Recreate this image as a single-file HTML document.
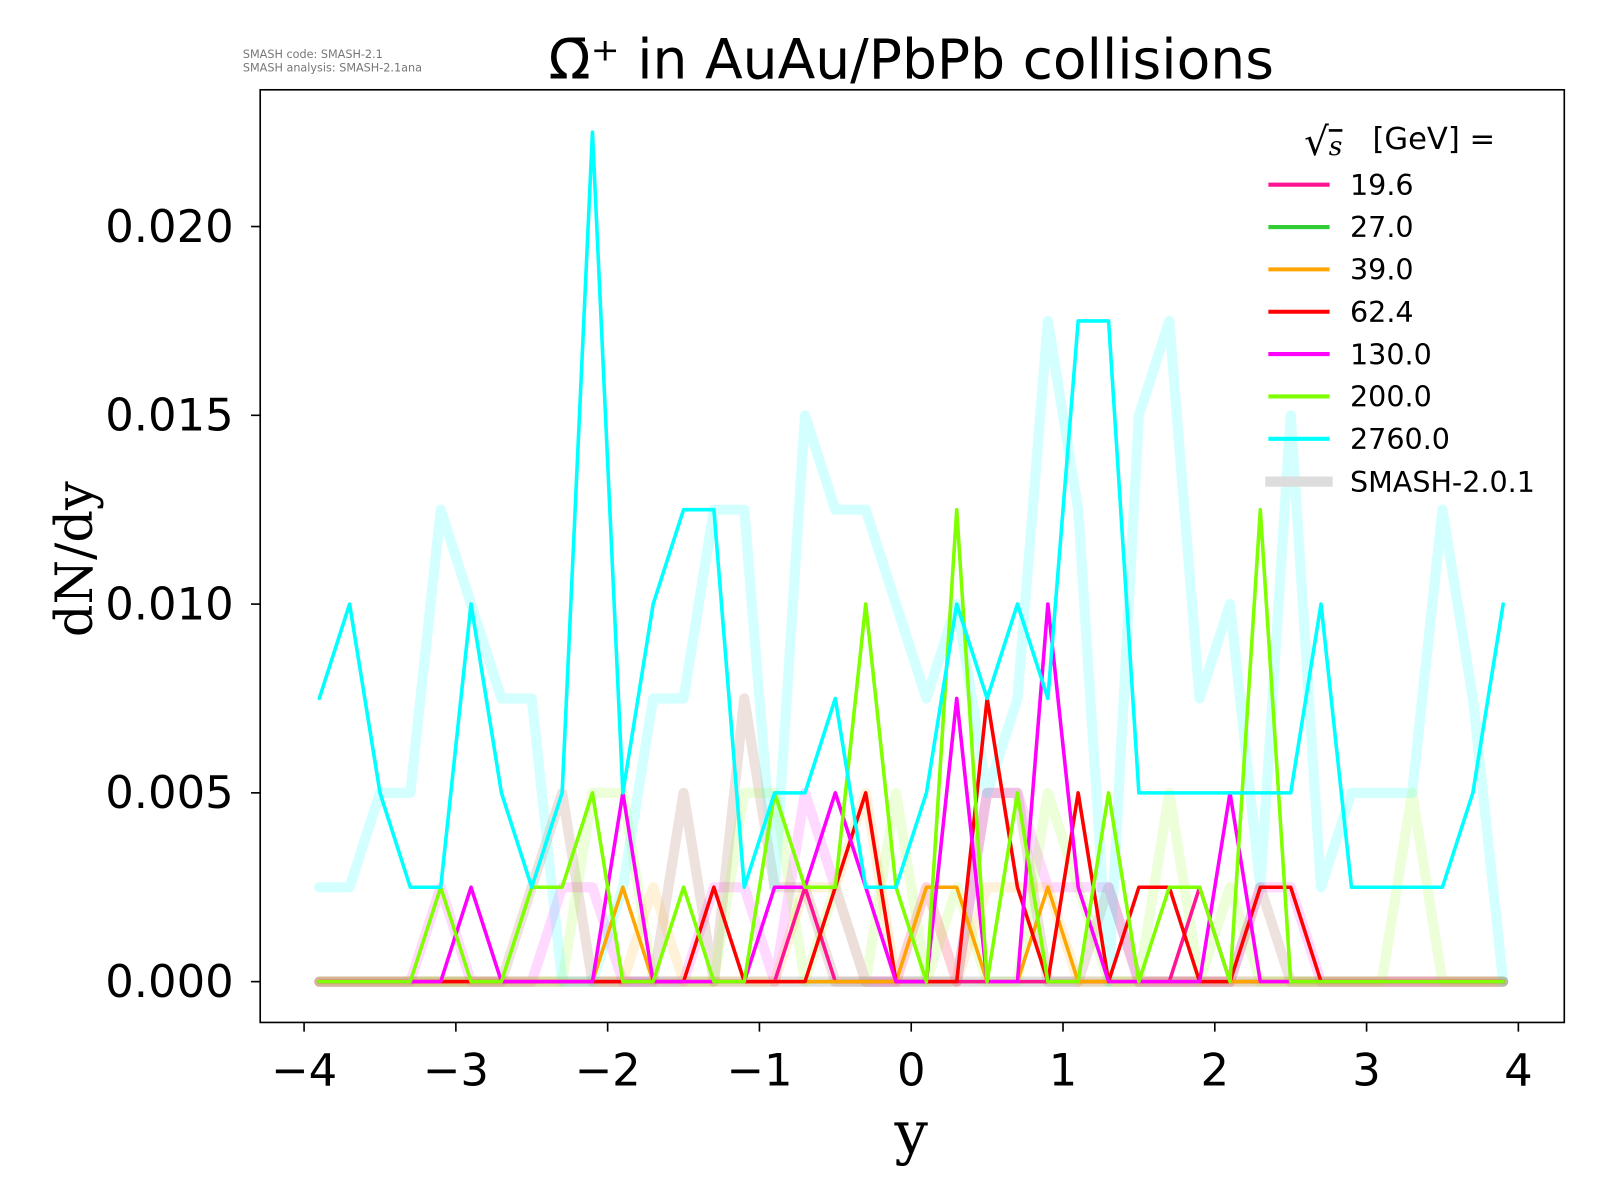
<!DOCTYPE html>
<html><head><meta charset="utf-8"><style>
html,body{margin:0;padding:0;background:#fff;overflow:hidden;width:1600px;height:1200px}
svg{display:block}
text{font-family:"DejaVu Sans","Liberation Sans",sans-serif}
</style></head><body>
<svg id="s" width="1600" height="1200" viewBox="0 0 1568 1176" preserveAspectRatio="none" xmlns="http://www.w3.org/2000/svg">
<rect width="1568" height="1176" fill="#fff"/>
<g id="faded"></g>
<g id="bright"></g>
<rect x="255" y="88" width="1278" height="914" fill="none" stroke="#000" stroke-width="1.6"/>
<g stroke="#000" stroke-width="1.6">
<line x1="298" y1="1002" x2="298" y2="1011"/><line x1="446.75" y1="1002" x2="446.75" y2="1011"/>
<line x1="595.5" y1="1002" x2="595.5" y2="1011"/><line x1="744.25" y1="1002" x2="744.25" y2="1011"/>
<line x1="893" y1="1002" x2="893" y2="1011"/><line x1="1041.75" y1="1002" x2="1041.75" y2="1011"/>
<line x1="1190.5" y1="1002" x2="1190.5" y2="1011"/><line x1="1339.25" y1="1002" x2="1339.25" y2="1011"/>
<line x1="1488" y1="1002" x2="1488" y2="1011"/>
<line x1="246" y1="962" x2="255" y2="962"/><line x1="246" y1="777" x2="255" y2="777"/>
<line x1="246" y1="592" x2="255" y2="592"/><line x1="246" y1="407" x2="255" y2="407"/>
<line x1="246" y1="222" x2="255" y2="222"/>
</g>
<g font-size="44" text-anchor="middle" fill="#000">
<text x="298" y="1064">−4</text><text x="446.75" y="1064">−3</text><text x="595.5" y="1064">−2</text>
<text x="744.25" y="1064">−1</text><text x="893" y="1064">0</text><text x="1041.75" y="1064">1</text>
<text x="1190.5" y="1064">2</text><text x="1339.25" y="1064">3</text><text x="1488" y="1064">4</text>
</g>
<g font-size="44" text-anchor="end" fill="#000">
<text x="229" y="977">0.000</text><text x="229" y="792">0.005</text><text x="229" y="607">0.010</text>
<text x="229" y="422">0.015</text><text x="229" y="237">0.020</text>
</g>
<text x="893" y="1130" font-size="58" text-anchor="middle" style="font-family:'DejaVu Serif','Liberation Serif',serif">y</text>
<text transform="translate(90,548) rotate(-90)" font-size="50" text-anchor="middle" style="font-family:'DejaVu Serif','Liberation Serif',serif">dN/dy</text>
<text x="893" y="77" font-size="54" text-anchor="middle">Ω̄⁺ in AuAu/PbPb collisions</text>
<text x="238" y="57" font-size="11" fill="#777">SMASH code:      SMASH-2.1</text>
<text x="238" y="70" font-size="11" fill="#777">SMASH analysis: SMASH-2.1ana</text>
<g id="legend">
<text x="1278" y="152" font-size="38" style="font-family:'DejaVu Serif',serif">√<tspan text-decoration="overline" font-size="26" font-style="italic">s</tspan></text>
<text x="1345" y="146" font-size="30">[GeV] =</text>
</g>
</svg>
<script>
var X=function(y){return 298+(y+4)*148.75};
var Y=function(k){return 962-k*92.5};
function pl(g,arr,col,w,op){
 var pts=arr.map(function(k,i){return X(-3.9+0.2*i).toFixed(1)+","+Y(k).toFixed(1)}).join(" ");
 var e=document.createElementNS("http://www.w3.org/2000/svg","polyline");
 e.setAttribute("points",pts);e.setAttribute("fill","none");e.setAttribute("stroke",col);
 e.setAttribute("stroke-width",w);e.setAttribute("stroke-linejoin","round");e.setAttribute("stroke-linecap","round");
 if(op)e.setAttribute("stroke-opacity",op);
 document.getElementById(g).appendChild(e);
}
function z(){return new Array(40).fill(0)}
function set(a,m){for(var k in m){a[Math.round((parseFloat(k)+3.9)/0.2)]=m[k]}return a}
pl("faded",z(),"#999",10,0.3);
pl("faded",set(z(),{"-2.5":1,"-2.3":2,"-1.5":2,"-1.1":3,"-0.9":1,"-0.7":1,"0.5":2,"0.7":2,"1.3":1,"2.3":1}),"#a87060",10,0.2);
pl("faded",set(z(),{"-3.1":1,"-2.3":1,"-2.1":1,"-1.3":1,"-1.1":1,"-0.7":2,"-0.5":1,"0.1":1,"0.5":2,"0.7":2,"0.9":1,"1.1":1,"1.3":1,"2.3":1,"2.5":1}),"#ff00ff",10,0.15);
pl("faded",set(z(),{"-2.1":2,"-1.9":2,"-1.1":2,"-0.9":2,"-0.5":1,"-0.1":2,"0.3":1,"0.9":2,"1.1":1,"1.7":2,"2.1":1,"3.3":2}),"#7fff00",10,0.15);
pl("faded",set(z(),{"-1.7":1,"-0.7":1,"-0.5":1,"-0.3":2,"0.1":1,"0.5":1,"0.7":1,"0.9":1}),"#ffa500",10,0.15);
pl("faded",[1,1,2,2,5,4,3,3,0,0,1,3,3,5,5,1,6,5,5,4,3,4,2,3,7,5,0,6,7,3,4,1,6,1,2,2,2,5,3,0],"#00ffff",10,0.17);
pl("bright",z(),"#32cd32",3.5);
pl("bright",set(z(),{"-0.7":1,"1.9":1}),"#ff1493",3.5);
pl("bright",set(z(),{"-1.9":1,"0.1":1,"0.3":1,"0.9":1}),"#ffa500",3.5);
pl("bright",set(z(),{"-1.3":1,"-0.5":1,"-0.3":2,"0.5":3,"0.7":1,"1.1":2,"1.5":1,"1.7":1,"2.3":1,"2.5":1}),"#ff0000",3.5);
pl("bright",set(z(),{"-2.9":1,"-1.9":2,"-0.9":1,"-0.7":1,"-0.5":2,"-0.3":1,"0.3":3,"0.9":4,"1.1":1,"2.1":2}),"#ff00ff",3.5);
pl("bright",set(z(),{"-3.1":1,"-2.5":1,"-2.3":1,"-2.1":2,"-1.5":1,"-0.9":2,"-0.7":1,"-0.5":1,"-0.3":4,"-0.1":1,"0.3":5,"0.7":2,"1.3":2,"1.7":1,"1.9":1,"2.3":5}),"#7fff00",3.5);
pl("bright",[3,4,2,1,1,4,2,1,2,9,2,4,5,5,1,2,2,3,1,1,2,4,3,4,3,7,7,2,2,2,2,2,2,4,1,1,1,1,2,4],"#00ffff",3.5);
var L=[["19.6","#ff1493"],["27.0","#32cd32"],["39.0","#ffa500"],["62.4","#ff0000"],["130.0","#ff00ff"],["200.0","#7fff00"],["2760.0","#00ffff"]];
var g=document.getElementById("legend"),ns="http://www.w3.org/2000/svg";
L.forEach(function(l,i){var y=181+i*41.5;
 var ln=document.createElementNS(ns,"line");ln.setAttribute("x1",1243);ln.setAttribute("x2",1303);ln.setAttribute("y1",y);ln.setAttribute("y2",y);ln.setAttribute("stroke",l[1]);ln.setAttribute("stroke-width",4);g.appendChild(ln);
 var t=document.createElementNS(ns,"text");t.setAttribute("x",1323);t.setAttribute("y",y+10);t.setAttribute("font-size",28);t.textContent=l[0];g.appendChild(t);});
var ln=document.createElementNS(ns,"line");ln.setAttribute("x1",1240);ln.setAttribute("x2",1306);ln.setAttribute("y1",472);ln.setAttribute("y2",472);ln.setAttribute("stroke","#ddd");ln.setAttribute("stroke-width",10);g.appendChild(ln);
var t=document.createElementNS(ns,"text");t.setAttribute("x",1323);t.setAttribute("y",482);t.setAttribute("font-size",28);t.textContent="SMASH-2.0.1";g.appendChild(t);
</script>
</body></html>
